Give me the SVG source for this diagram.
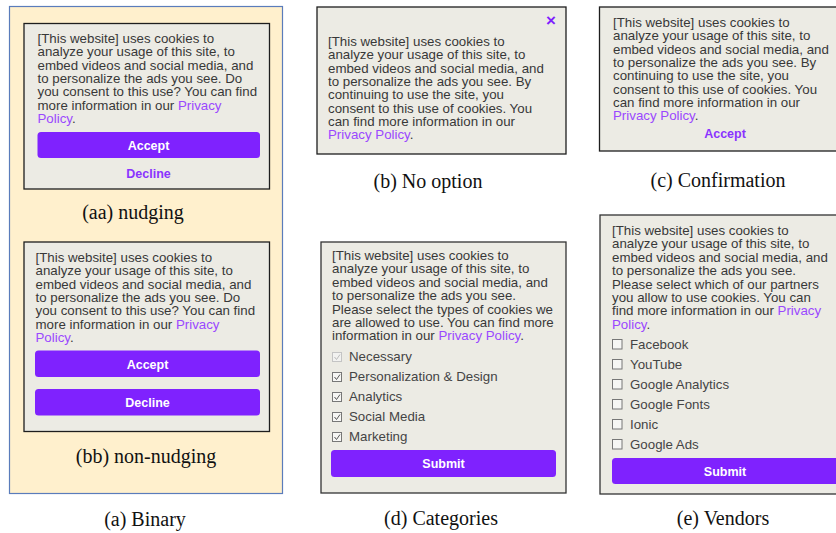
<svg xmlns="http://www.w3.org/2000/svg" width="836" height="533" viewBox="0 0 836 533">
<style>
.t{font-family:"Liberation Sans",Arial,sans-serif;font-size:13.3px;fill:#383838}
.lk{fill:#9a48ff}
.panel{fill:#ecebe4;stroke:#1e1e1e;stroke-width:1.3}
.btn{fill:#7f22fe}
.bt{font-family:"Liberation Sans",Arial,sans-serif;font-size:12.5px;font-weight:bold;fill:#ffffff;text-anchor:middle}
.pt{font-family:"Liberation Sans",Arial,sans-serif;font-size:12.5px;font-weight:bold;fill:#8a33ff;text-anchor:middle}
.cap{font-family:"Liberation Serif","Times New Roman",serif;font-size:20px;fill:#111;text-anchor:middle}
.cb{fill:#f6f6f4;stroke:#777;stroke-width:1}
.ck{fill:none;stroke:#555;stroke-width:1}
.lb{font-family:"Liberation Sans",Arial,sans-serif;font-size:13.3px;fill:#444}
</style>

<g id="binary">
<rect x="9.5" y="6.5" width="273" height="487" fill="#fff0cd" stroke="#5a7cbb" stroke-width="1.2"/>
<text class="cap" x="145" y="526">(a) Binary</text>
</g>

<g id="nudging">
<rect class="panel" x="24" y="23.5" width="245.5" height="165.5"/>
<text class="t" x="37.5" y="43">[This website] uses cookies to</text>
<text class="t" x="37.5" y="56.3">analyze your usage of this site, to</text>
<text class="t" x="37.5" y="69.6">embed videos and social media, and</text>
<text class="t" x="37.5" y="82.9">to personalize the ads you see. Do</text>
<text class="t" x="37.5" y="96.2">you consent to this use? You can find</text>
<text class="t" x="37.5" y="109.5">more information in our <tspan class="lk">Privacy</tspan></text>
<text class="t" x="37.5" y="122.8"><tspan class="lk">Policy</tspan>.</text>
<rect class="btn" x="37.5" y="132" width="222.5" height="26" rx="3.5"/>
<text class="bt" x="148.5" y="149.5">Accept</text>
<text class="pt" x="148.5" y="178">Decline</text>
<text class="cap" x="133" y="219">(aa) nudging</text>
</g>

<g id="non-nudging">
<rect class="panel" x="24" y="242" width="245.5" height="189.5"/>
<text class="t" x="35.5" y="262">[This website] uses cookies to</text>
<text class="t" x="35.5" y="275.3">analyze your usage of this site, to</text>
<text class="t" x="35.5" y="288.6">embed videos and social media, and</text>
<text class="t" x="35.5" y="301.9">to personalize the ads you see. Do</text>
<text class="t" x="35.5" y="315.2">you consent to this use? You can find</text>
<text class="t" x="35.5" y="328.5">more information in our <tspan class="lk">Privacy</tspan></text>
<text class="t" x="35.5" y="341.8"><tspan class="lk">Policy</tspan>.</text>
<rect class="btn" x="35" y="350.5" width="225" height="26.5" rx="3.5"/>
<text class="bt" x="147.5" y="368.5">Accept</text>
<rect class="btn" x="35" y="389" width="225" height="26.5" rx="3.5"/>
<text class="bt" x="147.5" y="407">Decline</text>
<text class="cap" x="146" y="463">(bb) non-nudging</text>
</g>

<g id="no-option">
<rect class="panel" x="317" y="7" width="249" height="147"/>
<text x="551" y="25.5" font-family="Liberation Sans, Arial, sans-serif" font-size="17" font-weight="bold" fill="#7f22fe" text-anchor="middle">×</text>
<text class="t" x="328" y="46">[This website] uses cookies to</text>
<text class="t" x="328" y="59.3">analyze your usage of this site, to</text>
<text class="t" x="328" y="72.6">embed videos and social media, and</text>
<text class="t" x="328" y="85.9">to personalize the ads you see. By</text>
<text class="t" x="328" y="99.2">continuing to use the site, you</text>
<text class="t" x="328" y="112.5">consent to this use of cookies. You</text>
<text class="t" x="328" y="125.8">can find more information in our</text>
<text class="t" x="328" y="139.1"><tspan class="lk">Privacy Policy</tspan>.</text>
<text class="cap" x="428" y="188">(b) No option</text>
</g>

<g id="confirmation">
<rect class="panel" x="599.5" y="7" width="240" height="144"/>
<text class="t" x="613" y="27">[This website] uses cookies to</text>
<text class="t" x="613" y="40.3">analyze your usage of this site, to</text>
<text class="t" x="613" y="53.6">embed videos and social media, and</text>
<text class="t" x="613" y="66.9">to personalize the ads you see. By</text>
<text class="t" x="613" y="80.2">continuing to use the site, you</text>
<text class="t" x="613" y="93.5">consent to this use of cookies. You</text>
<text class="t" x="613" y="106.8">can find more information in our</text>
<text class="t" x="613" y="120.1"><tspan class="lk">Privacy Policy</tspan>.</text>
<text class="pt" x="725" y="137.5">Accept</text>
<text class="cap" x="718" y="187">(c) Confirmation</text>
</g>

<g id="categories">
<rect class="panel" x="321" y="242" width="245" height="251" style="stroke:#333"/>
<text class="t" x="332" y="260">[This website] uses cookies to</text>
<text class="t" x="332" y="273.4">analyze your usage of this site, to</text>
<text class="t" x="332" y="286.8">embed videos and social media, and</text>
<text class="t" x="332" y="300.2">to personalize the ads you see.</text>
<text class="t" x="332" y="313.6">Please select the types of cookies we</text>
<text class="t" x="332" y="327">are allowed to use. You can find more</text>
<text class="t" x="332" y="340.4">information in our <tspan class="lk">Privacy Policy</tspan>.</text>
<rect x="332.5" y="352.5" width="9" height="9" fill="#f2f2f0" stroke="#c4c4c4"/>
<path d="M334.5 357 L336.5 359.5 L340 354.5" fill="none" stroke="#bbb" stroke-width="1"/>
<text class="lb" x="349" y="361" fill="#555">Necessary</text>
<rect class="cb" x="332.5" y="372.5" width="9" height="9"/>
<path class="ck" d="M334.5 377 L336.5 379.5 L340 374.5"/>
<text class="lb" x="349" y="381">Personalization &amp; Design</text>
<rect class="cb" x="332.5" y="392.5" width="9" height="9"/>
<path class="ck" d="M334.5 397 L336.5 399.5 L340 394.5"/>
<text class="lb" x="349" y="401">Analytics</text>
<rect class="cb" x="332.5" y="412.5" width="9" height="9"/>
<path class="ck" d="M334.5 417 L336.5 419.5 L340 414.5"/>
<text class="lb" x="349" y="421">Social Media</text>
<rect class="cb" x="332.5" y="432.5" width="9" height="9"/>
<path class="ck" d="M334.5 437 L336.5 439.5 L340 434.5"/>
<text class="lb" x="349" y="441">Marketing</text>
<rect class="btn" x="331" y="450" width="225" height="27" rx="3.5"/>
<text class="bt" x="443.5" y="468">Submit</text>
<text class="cap" x="441" y="525">(d) Categories</text>
</g>

<g id="vendors">
<rect class="panel" x="600" y="215" width="240" height="279" style="stroke:#333"/>
<text class="t" x="612" y="235">[This website] uses cookies to</text>
<text class="t" x="612" y="248.4">analyze your usage of this site, to</text>
<text class="t" x="612" y="261.8">embed videos and social media, and</text>
<text class="t" x="612" y="275.2">to personalize the ads you see.</text>
<text class="t" x="612" y="288.6">Please select which of our partners</text>
<text class="t" x="612" y="302">you allow to use cookies. You can</text>
<text class="t" x="612" y="315.4">find more information in our <tspan class="lk">Privacy</tspan></text>
<text class="t" x="612" y="328.8"><tspan class="lk">Policy</tspan>.</text>
<rect class="cb" x="612.5" y="339.5" width="9.5" height="9.5"/>
<text class="lb" x="630" y="349">Facebook</text>
<rect class="cb" x="612.5" y="359.5" width="9.5" height="9.5"/>
<text class="lb" x="630" y="369">YouTube</text>
<rect class="cb" x="612.5" y="379.5" width="9.5" height="9.5"/>
<text class="lb" x="630" y="389">Google Analytics</text>
<rect class="cb" x="612.5" y="399.5" width="9.5" height="9.5"/>
<text class="lb" x="630" y="409">Google Fonts</text>
<rect class="cb" x="612.5" y="419.5" width="9.5" height="9.5"/>
<text class="lb" x="630" y="429">Ionic</text>
<rect class="cb" x="612.5" y="439.5" width="9.5" height="9.5"/>
<text class="lb" x="630" y="449">Google Ads</text>
<rect class="btn" x="612" y="458" width="230" height="26" rx="3.5"/>
<text class="bt" x="725" y="476">Submit</text>
<text class="cap" x="723" y="525">(e) Vendors</text>
</g>
</svg>
